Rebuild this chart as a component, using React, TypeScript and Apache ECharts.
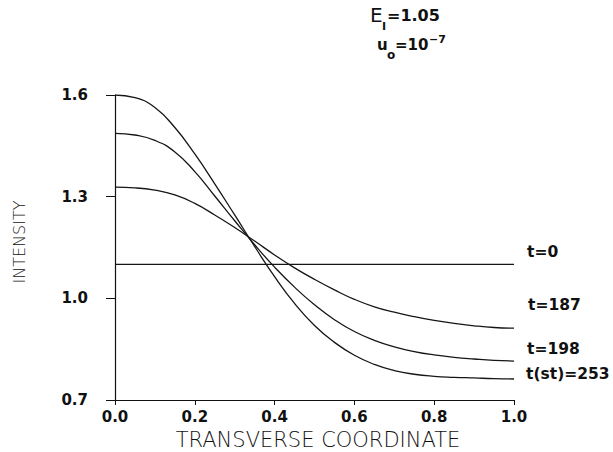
import React, { useEffect, useRef } from "react";
import * as echarts from "echarts";

const xs = [0, 0.05, 0.1, 0.15, 0.2, 0.25, 0.3, 0.35, 0.4, 0.45, 0.5, 0.55, 0.6, 0.65, 0.7, 0.75, 0.8, 0.85, 0.9, 0.95, 1.0];
const t253 = [1.600, 1.592, 1.563, 1.504, 1.426, 1.338, 1.246, 1.153, 1.064, 0.985, 0.920, 0.870, 0.832, 0.805, 0.787, 0.776, 0.770, 0.767, 0.765, 0.763, 0.762];
const t198 = [1.487, 1.482, 1.466, 1.432, 1.374, 1.302, 1.229, 1.158, 1.092, 1.033, 0.981, 0.937, 0.902, 0.876, 0.857, 0.843, 0.833, 0.826, 0.821, 0.817, 0.815];
const t187 = [1.328, 1.326, 1.319, 1.305, 1.280, 1.246, 1.209, 1.169, 1.128, 1.090, 1.056, 1.025, 0.997, 0.975, 0.959, 0.946, 0.935, 0.926, 0.919, 0.914, 0.912];
const t0x = [0, 1.0];
const t0 = [1.10, 1.10];
const yTicks = [0.7, 1.0, 1.3, 1.6];
const xTicks = [0, 0.2, 0.4, 0.6, 0.8, 1.0];
const curveLabels = ["t=0", "t=187", "t=198", "t(st)=253"];

const FONT = "DejaVu Sans";

export default function App() {
  const ref = useRef<HTMLDivElement>(null);
  useEffect(() => {
    if (!ref.current) return;
    const chart = echarts.init(ref.current, null, { renderer: "svg" });
    const pair = (xv: number[], yv: number[]) => xv.map((x, i) => [x, yv[i]]);
    const lineStyle = { color: "#161616", width: 1.3 };
    const mk = (name: string, data: number[][]) => ({
      type: "line",
      name,
      data,
      smooth: 0.5,
      showSymbol: false,
      symbol: "none",
      lineStyle,
      silent: true,
    });
    const txt = (text: string, x: number, y: number, size: number, weight: string, align = "left", extra: any = {}) => ({
      type: "text",
      x,
      y,
      ...extra,
      style: {
        text,
        fontSize: size,
        fontFamily: FONT,
        fontWeight: weight,
        fill: "#111",
        align,
        verticalAlign: "middle",
      },
    });
    chart.setOption({
      animation: false,
      backgroundColor: "#ffffff",
      grid: { left: 115, right: 99, top: 95, bottom: 52, containLabel: false },
      xAxis: {
        type: "value",
        min: 0,
        max: 1,
        axisLine: { show: true, lineStyle: { color: "#111", width: 1.2 } },
        axisTick: { show: true, customValues: xTicks, length: 5, lineStyle: { color: "#111" } },
        axisLabel: {
          customValues: xTicks,
          formatter: (v: number) => v.toFixed(1),
          margin: 9,
          fontSize: 15,
          fontFamily: FONT,
          fontWeight: "bold",
          color: "#111",
        },
        splitLine: { show: false },
      },
      yAxis: {
        type: "value",
        min: 0.7,
        max: 1.6,
        axisLine: { show: true, lineStyle: { color: "#111", width: 1.2 } },
        axisTick: { show: true, customValues: yTicks, length: 9, lineStyle: { color: "#111" } },
        axisLabel: {
          customValues: yTicks,
          formatter: (v: number) => v.toFixed(1),
          margin: 27,
          fontSize: 15,
          fontFamily: FONT,
          fontWeight: "bold",
          color: "#111",
        },
        splitLine: { show: false },
      },
      series: [
        mk("t=0", pair(t0x, t0)),
        mk("t=187", pair(xs, t187)),
        mk("t=198", pair(xs, t198)),
        mk("t(st)=253", pair(xs, t253)),
      ],
      graphic: [
        txt("INTENSITY", 19, 242, 16, "200", "center", { rotation: Math.PI / 2 }),
        txt("TRANSVERSE COORDINATE", 318, 440, 21, "200", "center"),
        txt(curveLabels[0], 527, 252, 15.5, "bold"),
        txt(curveLabels[1], 528, 305, 15.5, "bold"),
        txt(curveLabels[2], 527, 349, 15.5, "bold"),
        txt(curveLabels[3], 526, 374, 15.5, "bold"),
        txt("E", 370, 15, 20, "normal"),
        txt("I", 382, 26, 11, "bold"),
        txt("=1.05", 387, 15, 16, "bold"),
        txt("u", 377, 45, 15, "bold"),
        txt("o", 387, 55, 12, "bold"),
        txt("=10", 395, 45, 15, "bold"),
        txt("−7", 429, 39, 11, "bold"),
      ],
    });
    return () => chart.dispose();
  }, []);
  return (
    <div
      ref={ref}
      style={{ position: "absolute", left: 0, top: 0, width: 613, height: 452, background: "#fff" }}
    />
  );
}
